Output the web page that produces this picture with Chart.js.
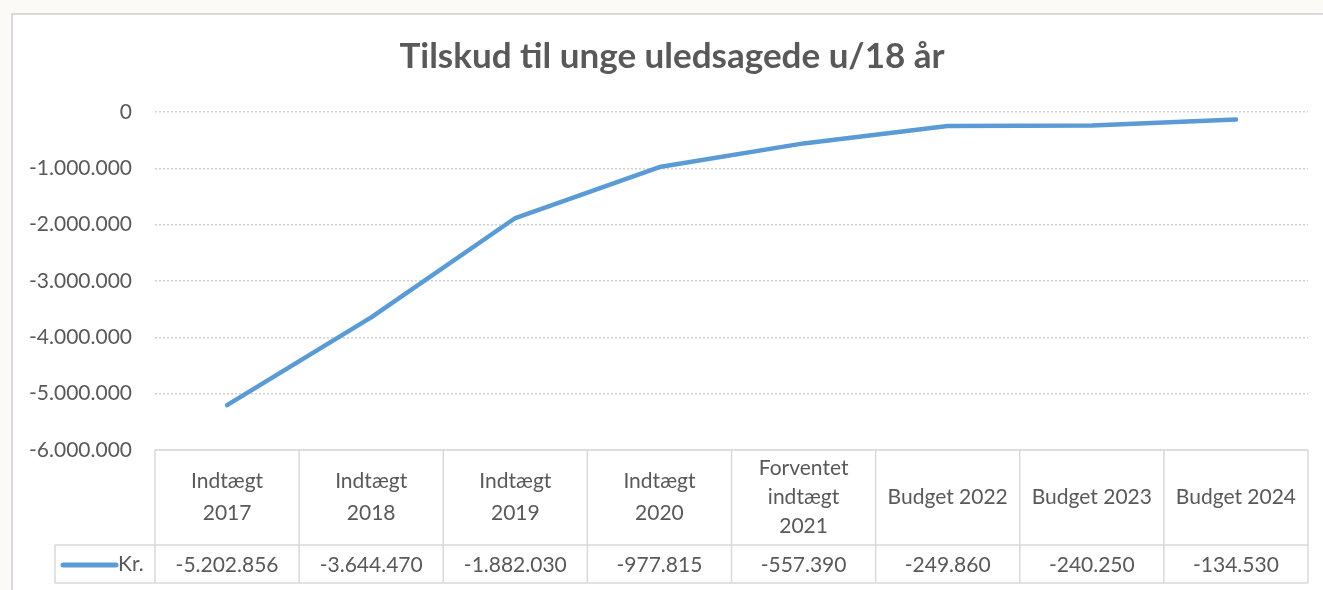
<!DOCTYPE html>
<html>
<head>
<meta charset="utf-8">
<script src="https://cdn.jsdelivr.net/npm/chart.js@4"></script>
<style>
  html, body { margin: 0; padding: 0; background: #fbfaf7; }
  #wrap { width: 1323px; height: 590px; position: relative; }
</style>
</head>
<body>
<div id="wrap"><canvas id="resultado" width="1323" height="590"></canvas></div>
<script>
// data
const kategorier = [
  ['Indtægt', '2017'],
  ['Indtægt', '2018'],
  ['Indtægt', '2019'],
  ['Indtægt', '2020'],
  ['Forventet', 'indtægt', '2021'],
  ['Budget 2022'],
  ['Budget 2023'],
  ['Budget 2024']
]
const kroner = [-5202856, -3644470, -1882030, -977815, -557390, -249860, -240250, -134530]
const serieNavn = 'Kr.'
const yTicks = [0, -1000000, -2000000, -3000000, -4000000, -5000000, -6000000]

const GRA = '#595959'
const LINJE = '#d9d9d9'
const BLA = '#5b9bd5'
const FONT = 'Lato, "Liberation Sans", sans-serif'

function dkFormat(v) {
  const s = Math.abs(v).toString().replace(/\B(?=(\d{3})+(?!\d))/g, '.')
  return (v < 0 ? '-' : '') + s
}

// frame + title + data table below the plot
const tabel = {
  id: 'tabel',
  beforeDraw(chart) {
    const c = chart.ctx
    c.save()
    c.fillStyle = '#ffffff'
    c.fillRect(12, 14, chart.width - 12, chart.height - 14)
    c.strokeStyle = LINJE
    c.lineWidth = 2
    c.beginPath()
    c.moveTo(12, chart.height)
    c.lineTo(12, 14)
    c.lineTo(chart.width, 14)
    c.stroke()
    c.fillStyle = GRA
    c.font = 'bold 35px ' + FONT
    c.textAlign = 'center'
    c.textBaseline = 'middle'
    c.fillText('Tilskud til unge uledsagede u/18 år', 672, 57)
    c.restore()
  },
  afterDraw(chart) {
    const c = chart.ctx
    const x = chart.scales.x
    const area = chart.chartArea
    const top = area.bottom
    const mid = 545
    const bund = 583
    const n = kategorier.length
    const w = (area.right - area.left) / n
    c.save()
    c.strokeStyle = LINJE
    c.lineWidth = 1.5
    c.beginPath()
    c.moveTo(area.left, top); c.lineTo(area.right, top)
    c.moveTo(55, mid); c.lineTo(area.right, mid)
    c.moveTo(55, bund); c.lineTo(area.right, bund)
    c.moveTo(55, mid); c.lineTo(55, bund)
    for (let i = 0; i <= n; i++) {
      const xx = area.left + i * w
      c.moveTo(xx, top); c.lineTo(xx, bund)
    }
    c.stroke()

    c.fillStyle = GRA
    c.font = '21px ' + FONT
    c.textAlign = 'center'
    c.textBaseline = 'middle'
    kategorier.forEach((lab, i) => {
      const cx = x.getPixelForValue(i)
      const lh = lab.length > 2 ? 29 : 32
      const y0 = (top + mid) / 2 - (lab.length - 1) * lh / 2
      lab.forEach((t, j) => c.fillText(t, cx, y0 + j * lh))
      c.fillText(dkFormat(kroner[i]), cx, (mid + bund) / 2 + 1)
    })

    // legend key
    c.strokeStyle = BLA
    c.lineWidth = 5
    c.lineCap = 'round'
    c.beginPath()
    c.moveTo(63, 565); c.lineTo(116, 565)
    c.stroke()
    c.textAlign = 'left'
    c.fillText(serieNavn, 118, 564)
    c.restore()
  }
}

const data = {
  labels: kategorier,
  datasets: [{
    label: serieNavn,
    data: kroner,
    borderColor: BLA,
    borderWidth: 4.5,
    borderCapStyle: 'round',
    borderJoinStyle: 'round',
    pointRadius: 0,
    tension: 0,
    fill: false
  }]
}

const config = {
  type: 'line',
  data: data,
  options: {
    responsive: false,
    animation: false,
    layout: { padding: { top: 112, right: 15, bottom: 140, left: 0 } },
    plugins: {
      legend: { display: false },
      title: { display: false },
      tooltip: { enabled: false }
    },
    scales: {
      x: {
        display: false,
        offset: true
      },
      y: {
        min: -6000000,
        max: 0,
        afterFit(scale) { scale.width = 155 },
        afterBuildTicks(scale) { scale.ticks = yTicks.map(v => ({ value: v })) },
        border: { display: false, dash: [2, 2] },
        grid: {
          color: '#cfcfcf',
          lineWidth: 1.5,
          drawTicks: false
        },
        ticks: {
          color: GRA,
          padding: 23,
          font: { family: 'Lato', size: 21 },
          callback: v => dkFormat(v)
        }
      }
    }
  },
  plugins: [tabel]
}

let myChart = new Chart(document.getElementById('resultado'), config)
</script>
</body>
</html>
